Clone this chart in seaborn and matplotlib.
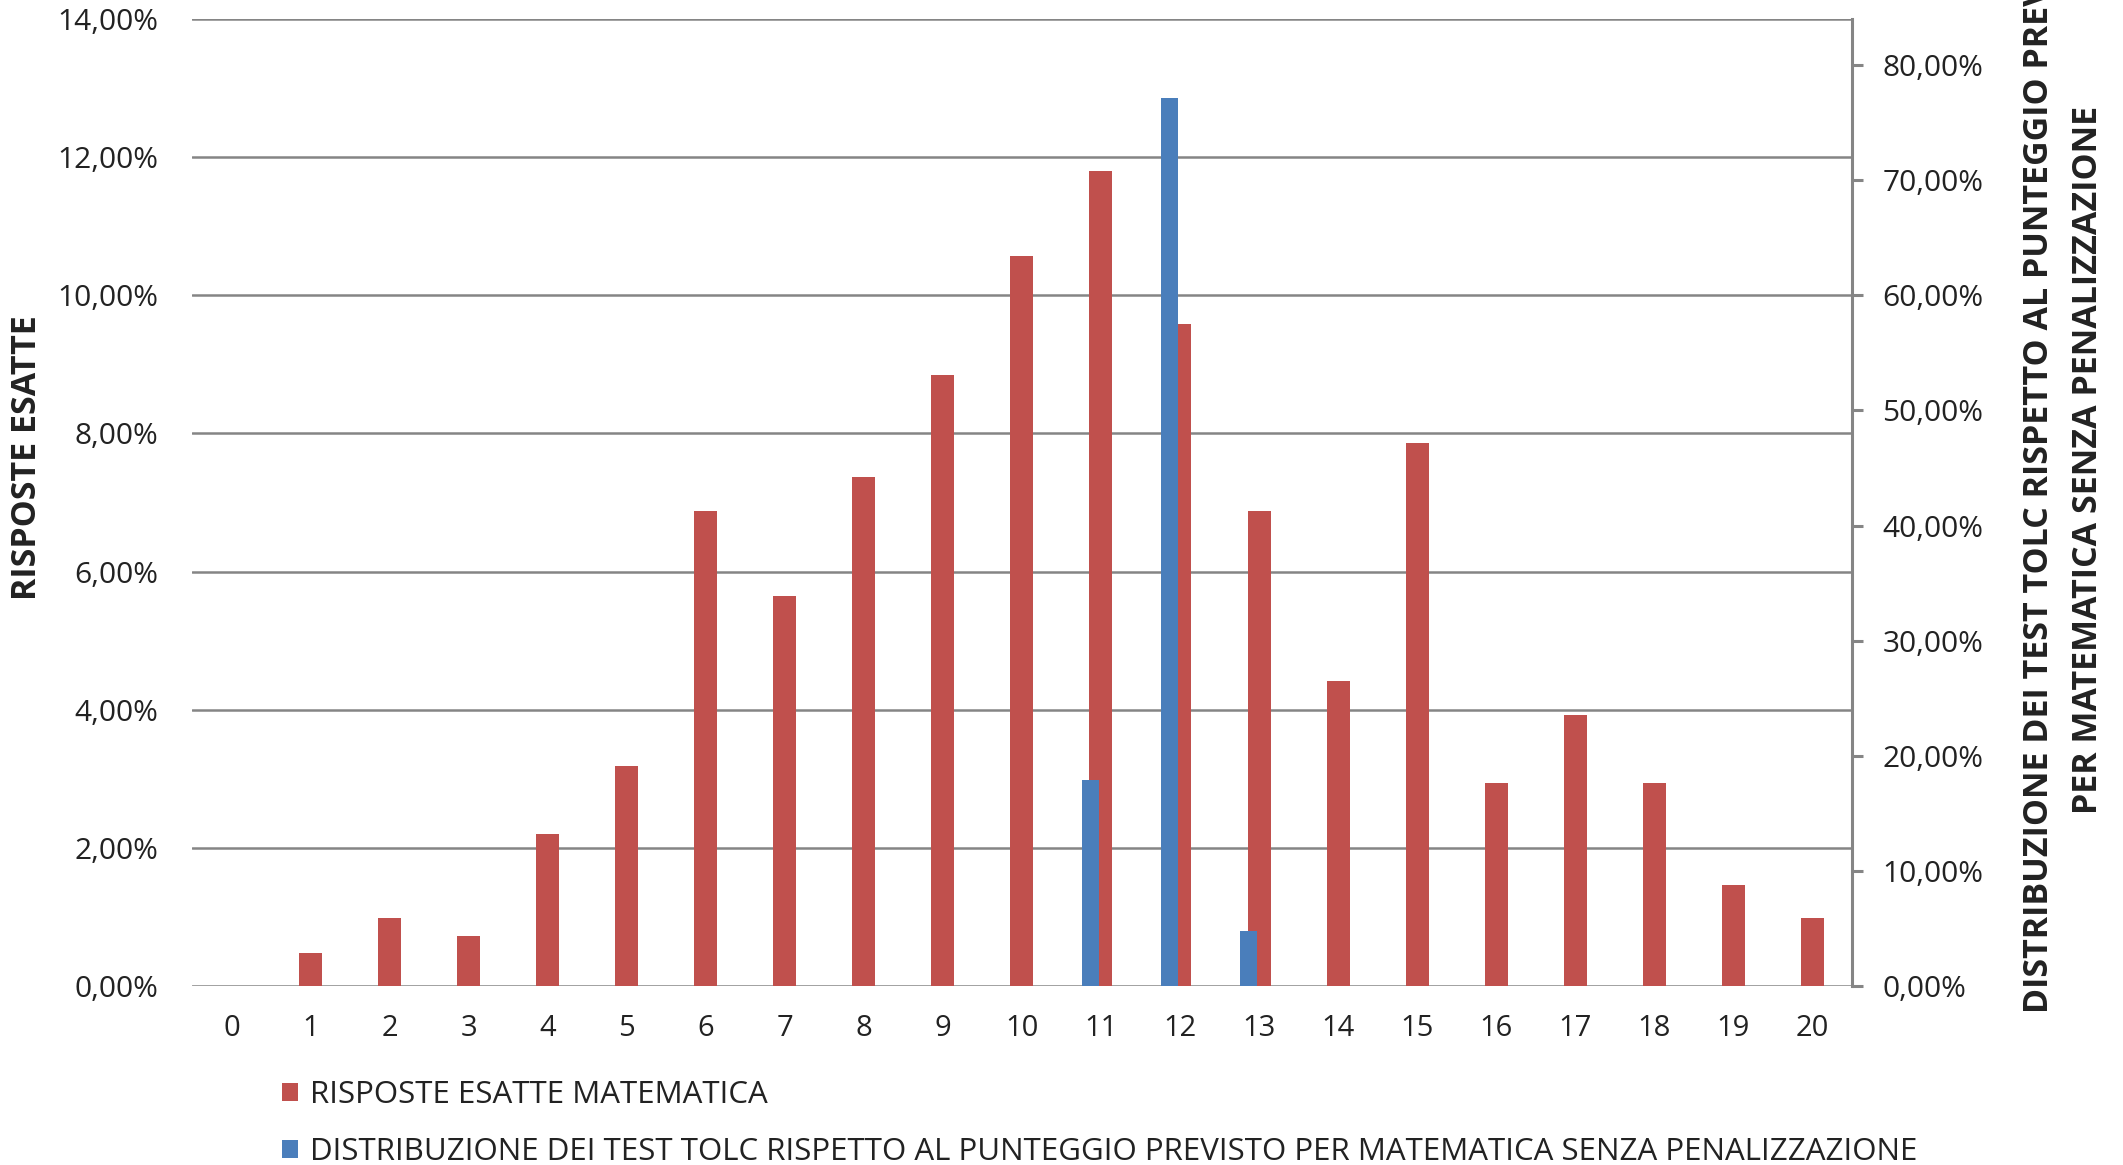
import matplotlib
matplotlib.use("Agg")
import matplotlib.pyplot as plt
from matplotlib.patches import Patch
from matplotlib.ticker import FuncFormatter, MultipleLocator
import seaborn as sns
import pandas as pd

# ---- data ----
punteggio = list(range(0, 21))
risposte_esatte = [0.0, 0.48, 0.98, 0.73, 2.20, 3.18, 6.88, 5.65, 7.37, 8.84, 10.57,
                   11.80, 9.59, 6.88, 4.42, 7.86, 2.94, 3.92, 2.94, 1.46, 0.98]
distribuzione_tolc = [0, 0, 0, 0, 0, 0, 0, 0, 0, 0, 0,
                      17.9, 77.1, 4.8, 0, 0, 0, 0, 0, 0, 0]

label_red = "RISPOSTE ESATTE MATEMATICA"
label_blue = "DISTRIBUZIONE DEI TEST TOLC RISPETTO AL PUNTEGGIO PREVISTO PER MATEMATICA SENZA PENALIZZAZIONE"
ylabel_left = "RISPOSTE ESATTE"
ylabel_right = "DISTRIBUZIONE DEI TEST TOLC RISPETTO AL PUNTEGGIO PREVISTO\nPER MATEMATICA SENZA PENALIZZAZIONE"

df = pd.DataFrame({"punteggio": punteggio,
                   "risposte": risposte_esatte,
                   "tolc": distribuzione_tolc})

RED = "#C0504D"
BLUE = "#4A7EBB"
GRID = "#858585"
TXT = "#222222"

sns.set_theme(style="white")
plt.rcParams["font.family"] = ["Open Sans", "DejaVu Sans"]

fig = plt.figure(figsize=(21.23, 11.65), dpi=100)
ax = fig.add_axes([0.0904, 0.1536, 0.8723 - 0.0904, 0.9837 - 0.1536])

sns.barplot(data=df, x="punteggio", y="risposte", ax=ax, color=RED,
            width=0.29, saturation=1, errorbar=None, linewidth=0, zorder=2)
ax.set_ylim(0, 14)
ax.set_xlim(-0.5, 20.5)
ax.yaxis.set_major_locator(MultipleLocator(2))
ax.yaxis.set_major_formatter(FuncFormatter(lambda v, p: f"{v:.2f}%".replace(".", ",")))
ax.grid(axis="y", color=GRID, linewidth=1.8)
ax.grid(axis="x", visible=False)
ax.set_axisbelow(True)
for s in ["left", "top", "right", "bottom"]:
    ax.spines[s].set_visible(False)
ax.tick_params(axis="y", length=0, pad=24, labelsize=21.5, labelcolor=TXT)
ax.tick_params(axis="x", length=0, pad=20, labelsize=21, labelcolor=TXT)
ax.set_xlabel("")
ax.set_ylabel("")

ax2 = ax.twinx()
sns.barplot(data=df, x="punteggio", y="tolc", ax=ax2, color=BLUE,
            width=0.22, saturation=1, errorbar=None, linewidth=0, zorder=3)
for p in ax2.patches:
    p.set_x(p.get_x() - 0.134)
ax2.set_ylim(0, 84)
ax2.set_xlim(-0.5, 20.5)
ax2.yaxis.set_major_locator(MultipleLocator(10))
ax2.yaxis.set_major_formatter(FuncFormatter(lambda v, p: f"{v:.2f}%".replace(".", ",")))
for s in ["left", "top", "bottom"]:
    ax2.spines[s].set_visible(False)
ax2.spines["right"].set_visible(True)
ax2.spines["right"].set_color(GRID)
ax2.spines["right"].set_linewidth(2.2)
ax2.tick_params(axis="y", direction="out", length=8, width=2.2, color=GRID,
                pad=14, labelsize=21.5, labelcolor=TXT, right=True, left=False)
ax2.set_ylabel("")
ax2.grid(False)

fig.text(0.0127, 0.607, ylabel_left, rotation=90, ha="center", va="center",
         fontsize=24.5, fontweight="bold", color=TXT)
fig.text(0.972, 0.605, ylabel_right, rotation=90, ha="center", va="center",
         multialignment="center", fontsize=24.5, fontweight="bold", color=TXT,
         linespacing=1.6)

handles = [Patch(facecolor=RED, edgecolor="none", label=label_red),
           Patch(facecolor=BLUE, edgecolor="none", label=label_blue)]
fig.legend(handles=handles, loc="upper left", bbox_to_anchor=(0.133, 0.073),
           frameon=False, fontsize=22.5, handlelength=0.5, handleheight=0.5,
           handletextpad=0.4, labelspacing=0.88, borderaxespad=0, borderpad=0,
           labelcolor=TXT)

fig.savefig("out.png", dpi=100)
